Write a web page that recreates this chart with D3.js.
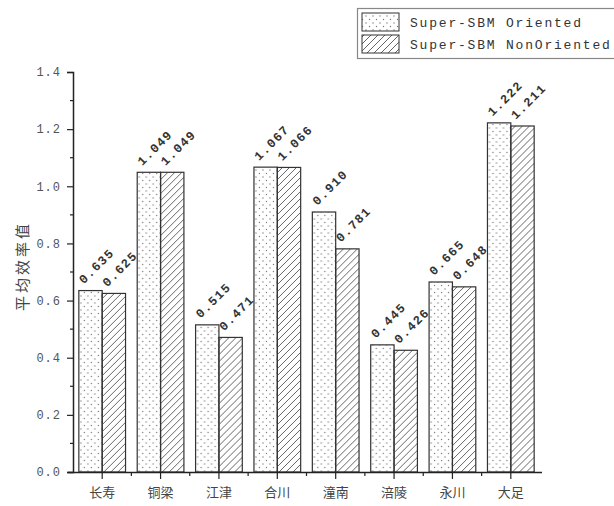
<!DOCTYPE html>
<html>
<head>
<meta charset="utf-8">
<script src="https://cdn.jsdelivr.net/npm/d3@7"></script>
<style>
  body { margin: 0; background: #fff; }
  svg { display: block; }
</style>
</head>
<body>
<div id="chart"></div>
<script>
// data
const regions = ["长寿", "铜梁", "江津", "合川", "潼南", "涪陵", "永川", "大足"];
const oriented = [0.635, 1.049, 0.515, 1.067, 0.910, 0.445, 0.665, 1.222];
const nonOriented = [0.625, 1.049, 0.471, 1.066, 0.781, 0.426, 0.648, 1.211];
const seriesNames = ["Super-SBM Oriented", "Super-SBM NonOriented"];
const yTicks = [0, 0.2, 0.4, 0.6, 0.8, 1.0, 1.2, 1.4];

const W = 614, H = 506;
const monoFont = "'Liberation Mono', 'DejaVu Sans Mono', monospace";
const cjkFont = "'Noto Sans CJK SC', sans-serif";

const svg = d3.select("#chart").append("svg")
    .attr("width", W)
    .attr("height", H);

// fill patterns
const defs = svg.append("defs");
const dots = defs.append("pattern")
    .attr("id", "dots")
    .attr("patternUnits", "userSpaceOnUse")
    .attr("width", 7).attr("height", 7);
dots.append("circle").attr("cx", 2).attr("cy", 2).attr("r", 0.7).attr("fill", "#777");
dots.append("circle").attr("cx", 5.5).attr("cy", 5.5).attr("r", 0.7).attr("fill", "#777");

const hatch = defs.append("pattern")
    .attr("id", "hatch")
    .attr("patternUnits", "userSpaceOnUse")
    .attr("width", 7).attr("height", 7);
hatch.append("path")
    .attr("d", "M-1,8 L8,-1 M-2,2 L2,-2 M5,9 L9,5")
    .attr("stroke", "#555")
    .attr("stroke-width", 0.9);

const fills = ["url(#dots)", "url(#hatch)"];

// scales
const x = d3.scaleBand()
    .domain(regions)
    .range([73, 540])
    .paddingInner(0.2)
    .paddingOuter(0.1);

const xSub = d3.scaleBand()
    .domain([0, 1])
    .range([0, x.bandwidth()]);

const y = d3.scaleLinear()
    .domain([0, 1.4])
    .range([472, 72]);

// bars
const groups = svg.append("g")
  .selectAll("g")
  .data(regions)
  .join("g")
    .attr("transform", d => "translate(" + x(d) + ",0)");

const barData = (d, i) => [
  { s: 0, v: oriented[i] },
  { s: 1, v: nonOriented[i] }
];

groups.selectAll("rect")
  .data(barData)
  .join("rect")
    .attr("x", d => xSub(d.s))
    .attr("y", d => y(d.v))
    .attr("width", xSub.bandwidth())
    .attr("height", d => y(0) - y(d.v))
    .attr("fill", d => fills[d.s])
    .attr("stroke", "#333")
    .attr("stroke-width", 1.2);

// value labels, rotated
groups.selectAll("text")
  .data(barData)
  .join("text")
    .attr("transform", d => "translate(" + (xSub(d.s) + 5) + "," + (y(d.v) - 6) + ") rotate(-45)")
    .style("font-family", monoFont)
    .style("font-size", "12.5px")
    .style("font-weight", "bold")
    .style("letter-spacing", "1.3px")
    .attr("fill", "#333")
    .text(d => d.v.toFixed(3));

// y axis
const yAxis = svg.append("g")
    .attr("transform", "translate(73,0)")
    .call(d3.axisLeft(y).tickValues(yTicks).tickFormat(d3.format(".1f")).tickSize(6).tickPadding(6));
yAxis.select(".domain").attr("stroke", "#222").attr("stroke-width", 1.5);
yAxis.selectAll(".tick line").attr("stroke", "#222").attr("stroke-width", 1.2);
yAxis.selectAll(".tick text")
    .style("font-family", monoFont)
    .style("font-size", "12px")
    .style("letter-spacing", "1px")
    .attr("fill", "#555");

// y minor ticks
svg.append("g")
  .selectAll("line")
  .data(d3.range(0.1, 1.4, 0.2))
  .join("line")
    .attr("x1", 70).attr("x2", 73)
    .attr("y1", d => y(d)).attr("y2", d => y(d))
    .attr("stroke", "#222")
    .attr("stroke-width", 1.2);

// x axis
const xAxis = svg.append("g")
    .attr("transform", "translate(0,472)")
    .call(d3.axisBottom(x).tickSize(7).tickPadding(9).tickSizeOuter(0));
xAxis.select(".domain")
    .attr("d", "M68,0.5H542")
    .attr("stroke", "#222")
    .attr("stroke-width", 1.5);
xAxis.selectAll(".tick line").attr("stroke", "#222").attr("stroke-width", 1.2);
xAxis.selectAll(".tick text")
    .style("font-family", cjkFont)
    .style("font-size", "13px")
    .attr("fill", "#444");

// x minor ticks between categories
svg.append("g")
  .selectAll("line")
  .data(regions.slice(1))
  .join("line")
    .attr("x1", d => x(d) - x.step() * x.paddingInner() / 2)
    .attr("x2", d => x(d) - x.step() * x.paddingInner() / 2)
    .attr("y1", 472).attr("y2", 476)
    .attr("stroke", "#222")
    .attr("stroke-width", 1.2);

// y axis title
svg.append("text")
    .attr("transform", "translate(28,266) rotate(-90)")
    .attr("text-anchor", "middle")
    .style("font-family", cjkFont)
    .style("font-size", "15px")
    .style("letter-spacing", "3px")
    .attr("fill", "#444")
    .text("平均效率值");

// legend
const legend = svg.append("g");
legend.append("rect")
    .attr("x", 357.5).attr("y", 8.5)
    .attr("width", 300).attr("height", 50)
    .attr("fill", "#fff")
    .attr("stroke", "#888")
    .attr("stroke-width", 1.2);

seriesNames.forEach((name, i) => {
  legend.append("rect")
      .attr("x", 362).attr("y", 13 + i * 22)
      .attr("width", 37).attr("height", 18)
      .attr("fill", fills[i])
      .attr("stroke", "#333")
      .attr("stroke-width", 1);
  legend.append("text")
      .attr("x", 410).attr("y", 27 + i * 22)
      .style("font-family", monoFont)
      .style("font-size", "13px")
      .style("letter-spacing", "1.8px")
      .attr("fill", "#333")
      .text(name);
});
</script>
</body>
</html>
